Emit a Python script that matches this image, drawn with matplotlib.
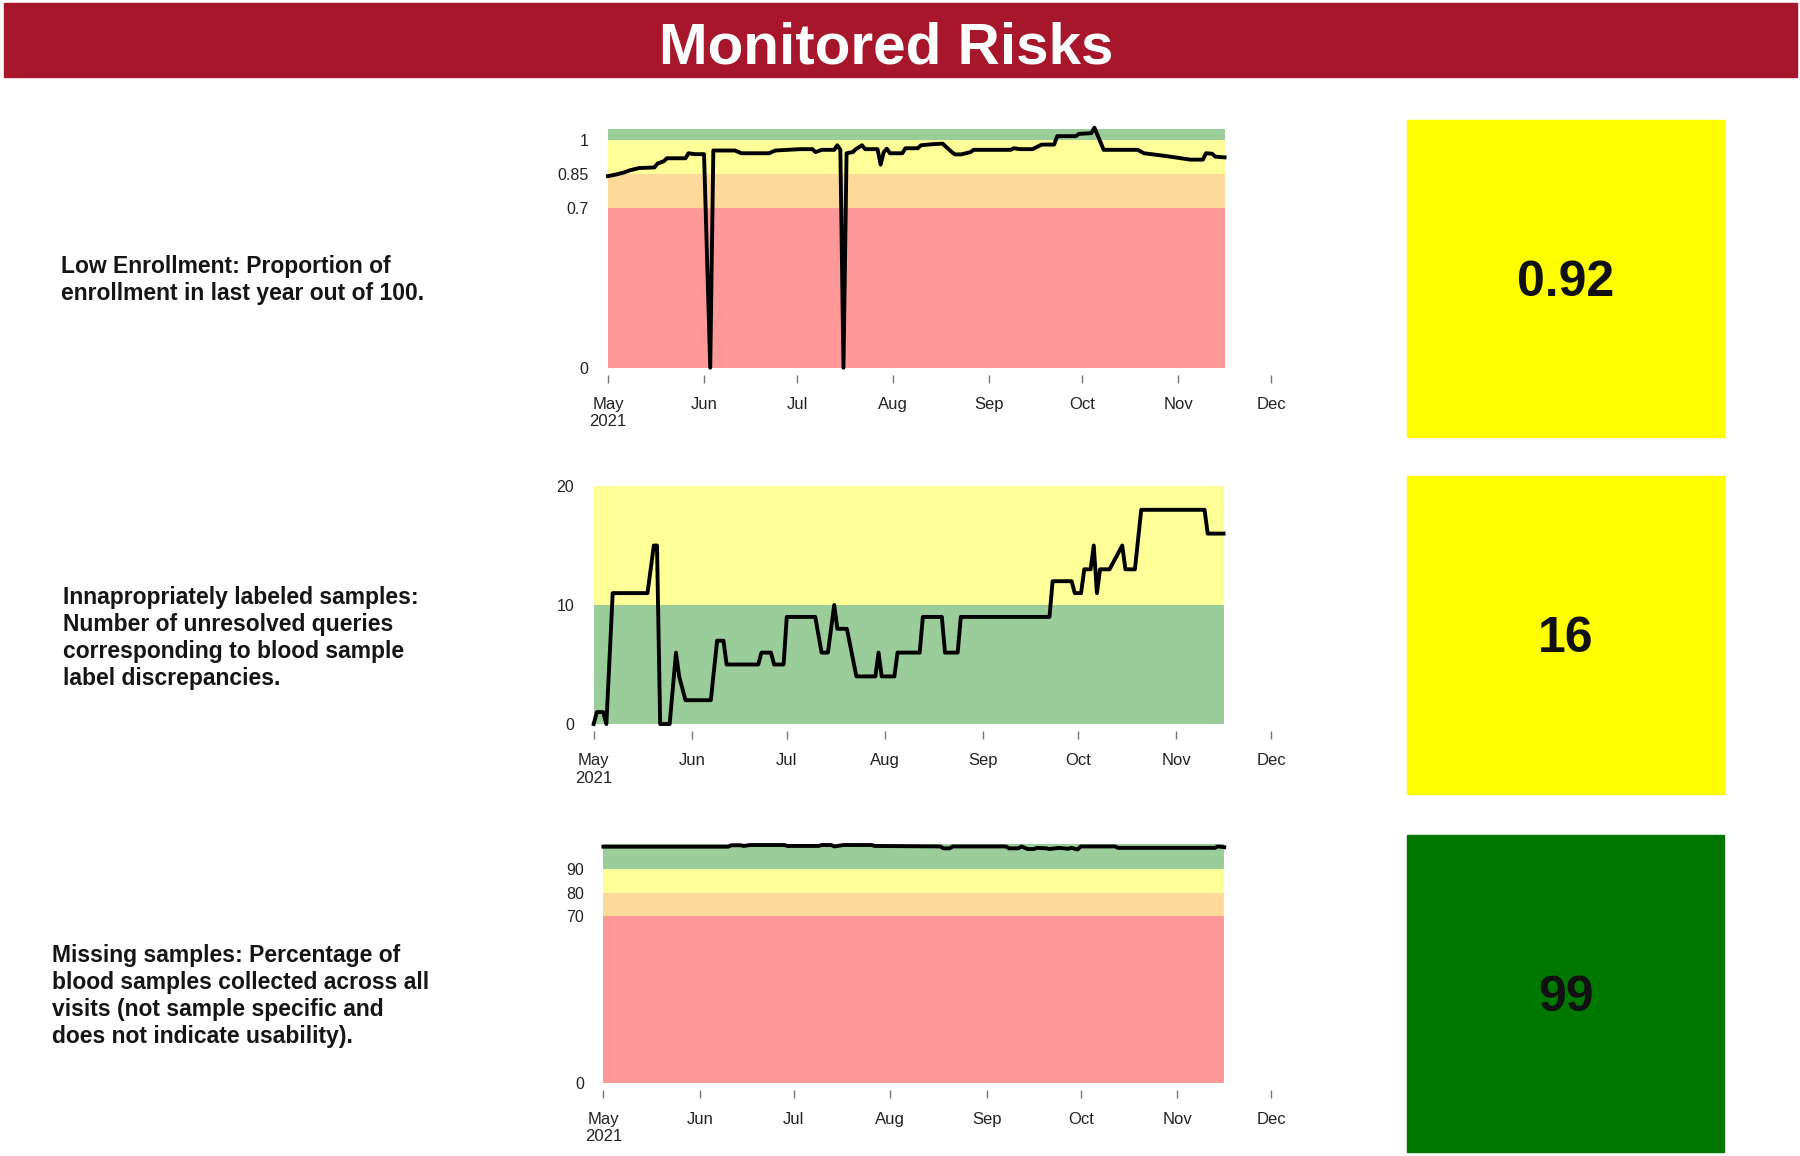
import matplotlib.pyplot as plt
from matplotlib.patches import Rectangle
import pandas as pd

plt.rcParams['font.family'] = ['Liberation Sans', 'DejaVu Sans']

# ---------------- Data ----------------
title = "Monitored Risks"

risk_texts = [
    "Low Enrollment: Proportion of\nenrollment in last year out of 100.",
    "Innapropriately labeled samples:\nNumber of unresolved queries\ncorresponding to blood sample\nlabel discrepancies.",
    "Missing samples: Percentage of\nblood samples collected across all\nvisits (not sample specific and\ndoes not indicate usability).",
]
current_values = ["0.92", "16", "99"]

month_ticks = ["2021-05-01", "2021-06-01", "2021-07-01", "2021-08-01",
               "2021-09-01", "2021-10-01", "2021-11-01", "2021-12-01"]
month_labels = ["May\n2021", "Jun", "Jul", "Aug", "Sep", "Oct", "Nov", "Dec"]

# Low enrollment (proportion)
enroll_dates = [
    "2021-05-01", "2021-05-03", "2021-05-06", "2021-05-08", "2021-05-11", "2021-05-16",
    "2021-05-17", "2021-05-19", "2021-05-20", "2021-05-26", "2021-05-27", "2021-05-29",
    "2021-06-01", "2021-06-03", "2021-06-04", "2021-06-11", "2021-06-13", "2021-06-22",
    "2021-06-24", "2021-06-28", "2021-07-02", "2021-07-06", "2021-07-07", "2021-07-09",
    "2021-07-13", "2021-07-14", "2021-07-15", "2021-07-16", "2021-07-17", "2021-07-19",
    "2021-07-20", "2021-07-22", "2021-07-23", "2021-07-27", "2021-07-28", "2021-07-29",
    "2021-07-30", "2021-07-31", "2021-08-04", "2021-08-05", "2021-08-09", "2021-08-10",
    "2021-08-14", "2021-08-17", "2021-08-20", "2021-08-21", "2021-08-23", "2021-08-26",
    "2021-08-27", "2021-09-08", "2021-09-09", "2021-09-11", "2021-09-15", "2021-09-18",
    "2021-09-22", "2021-09-23", "2021-09-29", "2021-09-30", "2021-10-04", "2021-10-05",
    "2021-10-08", "2021-10-19", "2021-10-21", "2021-10-28", "2021-11-05", "2021-11-09",
    "2021-11-10", "2021-11-12", "2021-11-13", "2021-11-16",
]
enroll_values = [
    0.840, 0.845, 0.855, 0.865, 0.875, 0.878,
    0.895, 0.905, 0.918, 0.918, 0.940, 0.936,
    0.936, 0.0, 0.952, 0.952, 0.940, 0.940,
    0.952, 0.955, 0.958, 0.958, 0.945, 0.955,
    0.955, 0.975, 0.955, 0.0, 0.940, 0.945,
    0.958, 0.975, 0.958, 0.958, 0.890, 0.945,
    0.960, 0.940, 0.940, 0.962, 0.962, 0.975,
    0.980, 0.982, 0.945, 0.935, 0.935, 0.945,
    0.955, 0.955, 0.962, 0.958, 0.958, 0.978,
    0.978, 1.015, 1.015, 1.025, 1.028, 1.052,
    0.955, 0.955, 0.940, 0.928, 0.912, 0.912,
    0.940, 0.938, 0.925, 0.922,
]
enroll_edges = [0, 0.7, 0.85, 1.0, 1.045]
enroll_yticks = [0, 0.7, 0.85, 1]

# Inappropriately labeled samples (count)
label_dates = [
    "2021-05-01", "2021-05-02", "2021-05-04", "2021-05-05", "2021-05-07", "2021-05-18",
    "2021-05-19", "2021-05-20", "2021-05-21", "2021-05-22", "2021-05-25", "2021-05-27",
    "2021-05-28", "2021-05-30", "2021-06-07", "2021-06-09", "2021-06-11", "2021-06-12",
    "2021-06-22", "2021-06-23", "2021-06-26", "2021-06-27", "2021-06-30", "2021-07-01",
    "2021-07-10", "2021-07-12", "2021-07-14", "2021-07-16", "2021-07-17", "2021-07-20",
    "2021-07-23", "2021-07-29", "2021-07-30", "2021-07-31", "2021-08-04", "2021-08-05",
    "2021-08-12", "2021-08-13", "2021-08-19", "2021-08-20", "2021-08-24", "2021-08-25",
    "2021-09-22", "2021-09-23", "2021-09-29", "2021-09-30", "2021-10-02", "2021-10-03",
    "2021-10-05", "2021-10-06", "2021-10-07", "2021-10-08", "2021-10-11", "2021-10-15",
    "2021-10-16", "2021-10-19", "2021-10-21", "2021-11-10", "2021-11-11", "2021-11-16",
]
label_values = [
    0, 1, 1, 0, 11, 11,
    13, 15, 15, 0, 0, 6,
    4, 2, 2, 7, 7, 5,
    5, 6, 6, 5, 5, 9,
    9, 6, 6, 10, 8, 8,
    4, 4, 6, 4, 4, 6,
    6, 9, 9, 6, 6, 9,
    9, 12, 12, 11, 11, 13,
    13, 15, 11, 13, 13, 15,
    13, 13, 18, 18, 16, 16,
]
label_edges = [0, 10, 20]
label_yticks = [0, 10, 20]

# Missing samples (percentage)
missing_dates = [
    "2021-05-01", "2021-06-10", "2021-06-11", "2021-06-14", "2021-06-15", "2021-06-17",
    "2021-06-28", "2021-06-29", "2021-07-09", "2021-07-10", "2021-07-13", "2021-07-14",
    "2021-07-17", "2021-07-26", "2021-07-27", "2021-08-17", "2021-08-18", "2021-08-20",
    "2021-08-21", "2021-09-07", "2021-09-08", "2021-09-11", "2021-09-12", "2021-09-14",
    "2021-09-16", "2021-09-17", "2021-09-20", "2021-09-21", "2021-09-24", "2021-09-27",
    "2021-09-28", "2021-09-30", "2021-10-01", "2021-10-12", "2021-10-13", "2021-11-13",
    "2021-11-14", "2021-11-16",
]
missing_values = [
    99.3, 99.3, 99.9, 99.9, 99.6, 100.0,
    100.0, 99.6, 99.6, 100.0, 100.0, 99.4,
    100.0, 100.0, 99.6, 99.4, 98.6, 98.6,
    99.4, 99.4, 98.6, 98.6, 99.4, 98.3,
    98.3, 98.8, 98.6, 98.3, 98.8, 98.4,
    98.8, 98.1, 99.4, 99.4, 98.8, 98.8,
    99.4, 99.1,
]
missing_edges = [0, 70, 80, 90, 100.3]
missing_yticks = [0, 70, 80, 90]

# Design constants
W, H = 1800, 1156
COLOR_BANNER = "#A8162B"
RED = "#FF9999"
ORANGE = "#FEDA9A"
YELLOW = "#FFFF99"
GREEN = "#9ACD9A"
BOX_YELLOW = "#FFFF00"
BOX_GREEN = "#007800"


def fx(px):
    return px / W


def fy(px):
    return 1 - px / H


def draw_panel(ax, dates, values, edges, colors, yticks):
    d = pd.to_datetime(dates)
    for lo, hi, c in zip(edges[:-1], edges[1:], colors):
        ax.fill_between([d[0], d[-1]], lo, hi, color=c, linewidth=0)
    ax.plot(d, values, color="black", lw=2.8, clip_on=False)

    ax.set_ylim(edges[0], edges[-1])
    ax.set_xlim(pd.Timestamp(month_ticks[0]), pd.Timestamp(month_ticks[-1]))
    ax.set_yticks(yticks)
    ax.set_yticklabels([f"{t:g}" for t in yticks])
    ax.set_xticks(pd.to_datetime(month_ticks))
    ax.set_xticklabels(month_labels, linespacing=1.5)

    for s in ax.spines.values():
        s.set_visible(False)
    ax.spines["bottom"].set_position(("outward", 5))
    ax.tick_params(axis="x", length=6, width=1, color="#777777", pad=10,
                   labelsize=12, labelcolor="#222222")
    ax.tick_params(axis="y", length=0, pad=14, labelsize=11.5, labelcolor="#222222")
    ax.patch.set_alpha(0)


fig = plt.figure(figsize=(18, 11.56), dpi=100)

# --- Banner ---
fig.patches.append(Rectangle((fx(3.5), fy(77)), fx(1797) - fx(3.5), 74 / H,
                             transform=fig.transFigure, color=COLOR_BANNER, zorder=0))
fig.text(fx(886), fy(63), title, color="white", fontsize=42, weight="bold",
         ha="center", va="baseline")

# --- Panels ---
ax1 = fig.add_axes([fx(608), fy(367.7), fx(1271) - fx(608), (367.7 - 129.3) / H])
draw_panel(ax1, enroll_dates, enroll_values, enroll_edges,
           [RED, ORANGE, YELLOW, GREEN], enroll_yticks)

ax2 = fig.add_axes([fx(593.7), fy(724), fx(1271) - fx(593.7), (724 - 486) / H])
draw_panel(ax2, label_dates, label_values, label_edges,
           [GREEN, YELLOW], label_yticks)

ax3 = fig.add_axes([fx(603.4), fy(1082.7), fx(1271) - fx(603.4), (1082.7 - 844.3) / H])
draw_panel(ax3, missing_dates, missing_values, missing_edges,
           [RED, ORANGE, YELLOW, GREEN], missing_yticks)

# --- Descriptions ---
text_pos = [(61, 255), (63, 586), (52, 944)]
for (x, y), txt in zip(text_pos, risk_texts):
    fig.text(fx(x), fy(y), txt, fontsize=16.5, weight="bold", color="#151515",
             ha="left", va="top", linespacing=1.22)

# --- Current value boxes ---
box_tops = [120, 476.5, 835]
box_colors = [BOX_YELLOW, BOX_YELLOW, BOX_GREEN]
for top, c, val in zip(box_tops, box_colors, current_values):
    fig.patches.append(Rectangle((fx(1407), fy(top + 317)), fx(1724) - fx(1407), 317 / H,
                                 transform=fig.transFigure, color=c, zorder=0))
    fig.text(fx(1565.5), fy(top + 158 + 18), val, fontsize=36, weight="bold",
             color="#111111", ha="center", va="baseline")

fig.savefig("out.png", dpi=100)
